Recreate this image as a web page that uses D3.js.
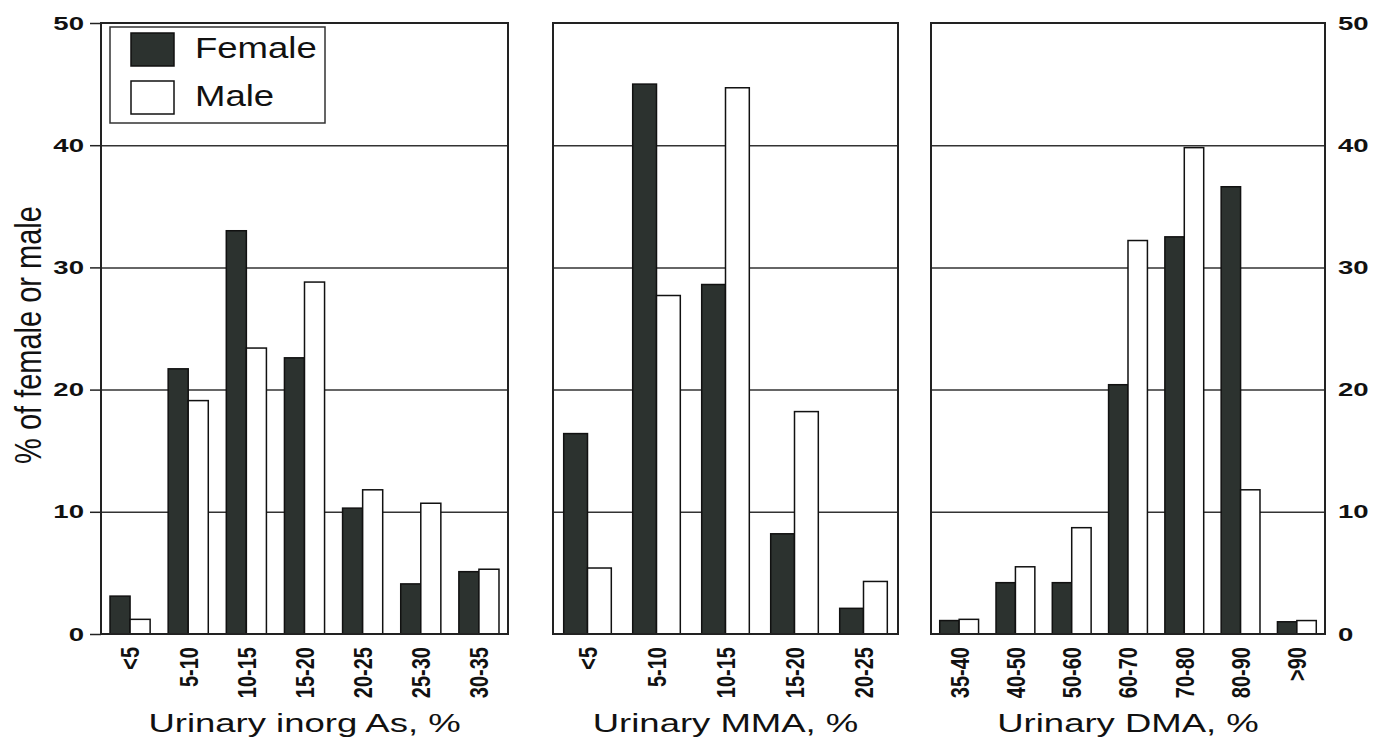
<!DOCTYPE html>
<html>
<head>
<meta charset="utf-8">
<script src="https://cdn.jsdelivr.net/npm/d3@7"></script>
<style>
  body { margin: 0; background: #fff; }
  svg { display: block; }
</style>
</head>
<body>
<svg></svg>
<script>
const width = 1375;
const height = 747;

// data
const yTicks = [0, 10, 20, 30, 40, 50];
const seriesNames = ["Female", "Male"];

const inorgCats = ["<5", "5-10", "10-15", "15-20", "20-25", "25-30", "30-35"];
const inorgFemale = [3.1, 21.7, 33.0, 22.6, 10.3, 4.1, 5.1];
const inorgMale = [1.2, 19.1, 23.4, 28.8, 11.8, 10.7, 5.3];

const mmaCats = ["<5", "5-10", "10-15", "15-20", "20-25"];
const mmaFemale = [16.4, 45.0, 28.6, 8.2, 2.1];
const mmaMale = [5.4, 27.7, 44.7, 18.2, 4.3];

const dmaCats = ["35-40", "40-50", "50-60", "60-70", "70-80", "80-90", ">90"];
const dmaFemale = [1.1, 4.2, 4.2, 20.4, 32.5, 36.6, 1.0];
const dmaMale = [1.2, 5.5, 8.7, 32.2, 39.8, 11.8, 1.1];

const titles = ["Urinary inorg As, %", "Urinary MMA, %", "Urinary DMA, %"];

const font = "'Liberation Sans', Arial, Helvetica, sans-serif";
const darkFill = "#2c322f";

const svg = d3.select("svg").attr("width", width).attr("height", height);

const y = d3.scaleLinear().domain([0, 50]).range([634, 23]);

const panels = [
  { cats: inorgCats, female: inorgFemale, male: inorgMale, title: titles[0], x0: 101, x1: 508 },
  { cats: mmaCats, female: mmaFemale, male: mmaMale, title: titles[1], x0: 553, x1: 898 },
  { cats: dmaCats, female: dmaFemale, male: dmaMale, title: titles[2], x0: 931, x1: 1325 },
];

panels.forEach((p) => {
  const x = d3
    .scaleBand()
    .domain(p.cats)
    .range([p.x0, p.x1])
    .paddingInner(0.31)
    .paddingOuter(0.155);
  const xs = d3.scaleBand().domain(seriesNames).range([0, x.bandwidth()]);

  const g = svg.append("g");

  //gridlines
  g.append("g")
    .attr("transform", `translate(${p.x0},0)`)
    .call(
      d3.axisLeft(y).tickValues([10, 20, 30, 40]).tickSize(-(p.x1 - p.x0)).tickFormat("")
    )
    .call((a) => a.select(".domain").remove())
    .selectAll("line")
    .attr("stroke", "#333")
    .attr("stroke-width", 1.5);

  //bars
  const rows = p.cats.map((c, j) => ({ cat: c, vals: [p.female[j], p.male[j]] }));
  g.selectAll(".grp")
    .data(rows)
    .join("g")
    .attr("class", "grp")
    .attr("transform", (d) => `translate(${x(d.cat)},0)`)
    .selectAll("rect")
    .data((d) => d.vals.map((v, k) => ({ s: seriesNames[k], v: v })))
    .join("rect")
    .attr("x", (d) => xs(d.s))
    .attr("y", (d) => y(d.v))
    .attr("width", xs.bandwidth())
    .attr("height", (d) => y(0) - y(d.v))
    .attr("fill", (d) => (d.s === "Female" ? darkFill : "#fff"))
    .attr("stroke", "#111")
    .attr("stroke-width", 1.5);

  //frame
  g.append("rect")
    .attr("x", p.x0)
    .attr("y", y(50))
    .attr("width", p.x1 - p.x0)
    .attr("height", y(0) - y(50))
    .attr("fill", "none")
    .attr("stroke", "#222")
    .attr("stroke-width", 2);

  //category labels
  const xa = g
    .append("g")
    .attr("transform", `translate(0,${y(0)})`)
    .call(d3.axisBottom(x).tickSize(0).tickPadding(0));
  xa.select(".domain").remove();
  xa.attr("font-family", font).attr("font-size", 20).attr("font-weight", "bold");
  xa.selectAll("text")
    .attr("x", 0)
    .attr("y", 0)
    .attr("dy", "0.36em")
    .attr("text-anchor", "end")
    .attr("fill", "#111")
    .attr("transform", "translate(0,13) scale(1.3,1) rotate(-90)");

  //panel title
  svg.append("text")
    .attr("transform", `translate(${(p.x0 + p.x1) / 2},732) scale(1.46,1)`)
    .attr("text-anchor", "middle")
    .attr("font-family", font)
    .attr("font-size", 25)
    .attr("fill", "#111")
    .text(p.title);
});

//left axis
const left = svg
  .append("g")
  .attr("transform", "translate(101,0)")
  .call(d3.axisLeft(y).tickValues(yTicks).tickSize(11).tickPadding(6));
left.select(".domain").remove();
left.selectAll("line").attr("stroke", "#222").attr("stroke-width", 1.5);
left.attr("font-family", font).attr("font-size", 19).attr("font-weight", "bold");
left.selectAll("text")
  .attr("x", 0)
  .attr("fill", "#111")
  .attr("transform", "translate(-17,0) scale(1.45,1)");

//right axis
const right = svg
  .append("g")
  .attr("transform", "translate(1325,0)")
  .call(d3.axisRight(y).tickValues(yTicks).tickSize(0).tickPadding(13));
right.select(".domain").remove();
right.attr("font-family", font).attr("font-size", 19).attr("font-weight", "bold");
right.selectAll("text")
  .attr("x", 0)
  .attr("fill", "#111")
  .attr("transform", "translate(13,0) scale(1.45,1)");

//y title
svg.append("text")
  .attr("transform", "translate(28,335) scale(1.25,1) rotate(-90)")
  .attr("text-anchor", "middle")
  .attr("dy", "0.35em")
  .attr("font-family", font)
  .attr("font-size", 29)
  .attr("fill", "#111")
  .text("% of female or male");

//legend
const legend = svg.append("g").attr("id", "legend");
legend
  .append("rect")
  .attr("x", 110)
  .attr("y", 27)
  .attr("width", 215)
  .attr("height", 96)
  .attr("fill", "#fff")
  .attr("stroke", "#333")
  .attr("stroke-width", 1.5);

const legendItems = legend
  .selectAll(".item")
  .data(seriesNames)
  .join("g")
  .attr("class", "item")
  .attr("transform", (d, i) => `translate(131,${33 + i * 48})`);

legendItems
  .append("rect")
  .attr("width", 43)
  .attr("height", 33)
  .attr("fill", (d) => (d === "Female" ? darkFill : "#fff"))
  .attr("stroke", "#111")
  .attr("stroke-width", 1.5);

legendItems
  .append("text")
  .attr("transform", "translate(64,25) scale(1.26,1)")
  .attr("font-family", font)
  .attr("font-size", 29)
  .attr("fill", "#111")
  .text((d) => d);
</script>
</body>
</html>
